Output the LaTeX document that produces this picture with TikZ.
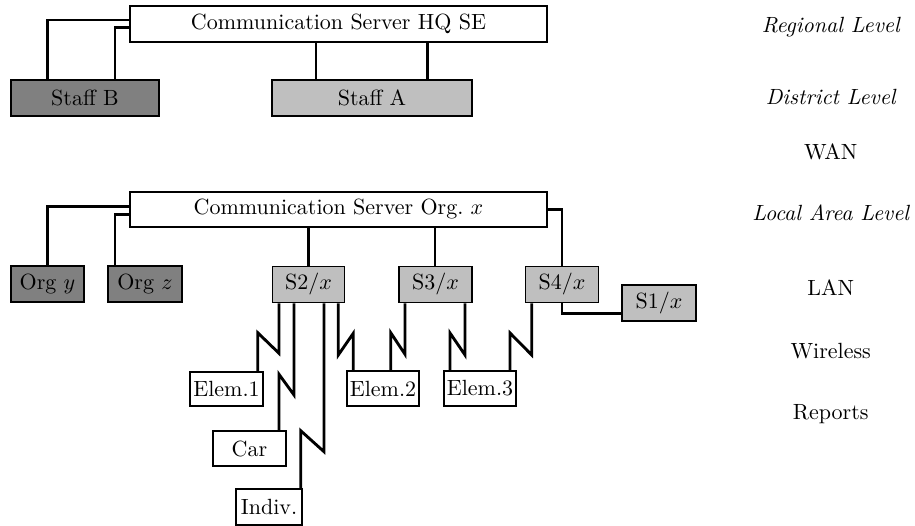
\documentclass[tikz,border=0pt]{standalone}
\def\u{0.4545pt}
\tikzset{
  box/.style 2 args={draw, line width=0.8pt, inner sep=0pt,
    minimum width=#1*\u, minimum height=#2*\u},
  wire/.style={line width=1.3pt, line join=miter},
  dark/.style={fill=black!50},
  light/.style={fill=black!25},
  level/.style={font=\itshape, anchor=base},
  tier/.style={anchor=base},
}
% wireless link: down from the parent, a zigzag, down into the child
\newcommand\wbolt[6]{\draw[wire] (#1.south -| #2,0) -- (#2,#3) -- (#4,#5) -- (#6.north -| #4,0);}
\begin{document}
\begin{tikzpicture}[x=\u,y=-\u]
\useasboundingbox (0,0) rectangle (915,526);

% regional and district level
\node[box={417}{36}] (hq) at (338.5,24) {Communication Server HQ SE};
\node[box={148}{36},dark] (stb) at (85,98) {Staff B};
\node[box={200}{36},light] (sta) at (372,98) {Staff A};

% local area level
\node[box={417}{35}] (org) at (338.5,209.5) {Communication Server Org.\ $x$};
\node[box={73}{36},dark] (orgy) at (47.5,284) {Org $y$};
\node[box={74}{36},dark] (orgz) at (145,284) {Org $z$};
\node[box={72}{36},light] (s2) at (308.5,284.5) {S2/$x$};
\node[box={73}{36},light] (s3) at (435.5,284.5) {S3/$x$};
\node[box={73}{36},light] (s4) at (562,284.5) {S4/$x$};
\node[box={74}{36},light] (s1) at (659,303) {S1/$x$};

% elements reached over the air
\node[box={73}{34}] (e1) at (226.5,389) {Elem.1};
\node[box={72}{35}] (e2) at (383,388.5) {Elem.2};
\node[box={72}{35}] (e3) at (480,388.5) {Elem.3};
\node[box={73}{35}] (car) at (249.5,448.5) {Car};
\node[box={66}{36}] (ind) at (269,507) {Indiv.};

% wired links
\draw[wire] (stb.north -| 47.7,0) |- (hq.west |- 0,20);
\draw[wire] (stb.north -| 115,0) |- (hq.west |- 0,27.3);
\draw[wire] (sta.north -| 316,0) -- (hq.south -| 316,0);
\draw[wire] (sta.north -| 427.7,0) -- (hq.south -| 427.7,0);
\draw[wire] (orgy.north -| 47.7,0) |- (org.west |- 0,206.7);
\draw[wire] (orgz.north -| 115,0) |- (org.west |- 0,214.3);
\draw[wire] (s2.north -| 308.3,0) -- (org.south -| 308.3,0);
\draw[wire] (s3.north -| 435,0) -- (org.south -| 435,0);
\draw[wire] (org.east) -| (s4.north);
\draw[wire] (s4.south) |- (s1.west |- 0,313.3);

% wireless links
\wbolt{s2}{279}{353.3}{257.7}{332.7}{e1}
\wbolt{s2}{294}{395}{279}{374.3}{car}
\wbolt{s2}{324}{451.7}{300.7}{430.7}{ind}
\wbolt{s2}{338.3}{355}{353.3}{333.3}{e2}
\wbolt{s3}{405}{354.3}{390.7}{332.7}{e2}
\wbolt{s3}{465}{355}{450}{333}{e3}
\wbolt{s4}{531.7}{355}{510}{333}{e3}

% level captions
\node[level] (lreg) at (830.7,32.7) {Regional Level};
\node[level] (ldis) at (830.7,105) {District Level};
\node[tier]  (lwan) at (830.7,160) {WAN};
\node[level] (lloc) at (830.7,220.7) {Local Area Level};
\node[tier]  (llan) at (830.7,295.3) {LAN};
\node[tier]  (lwir) at (830.7,359) {Wireless};
\node[tier]  (lrep) at (830.7,419.7) {Reports};
\end{tikzpicture}
\end{document}
